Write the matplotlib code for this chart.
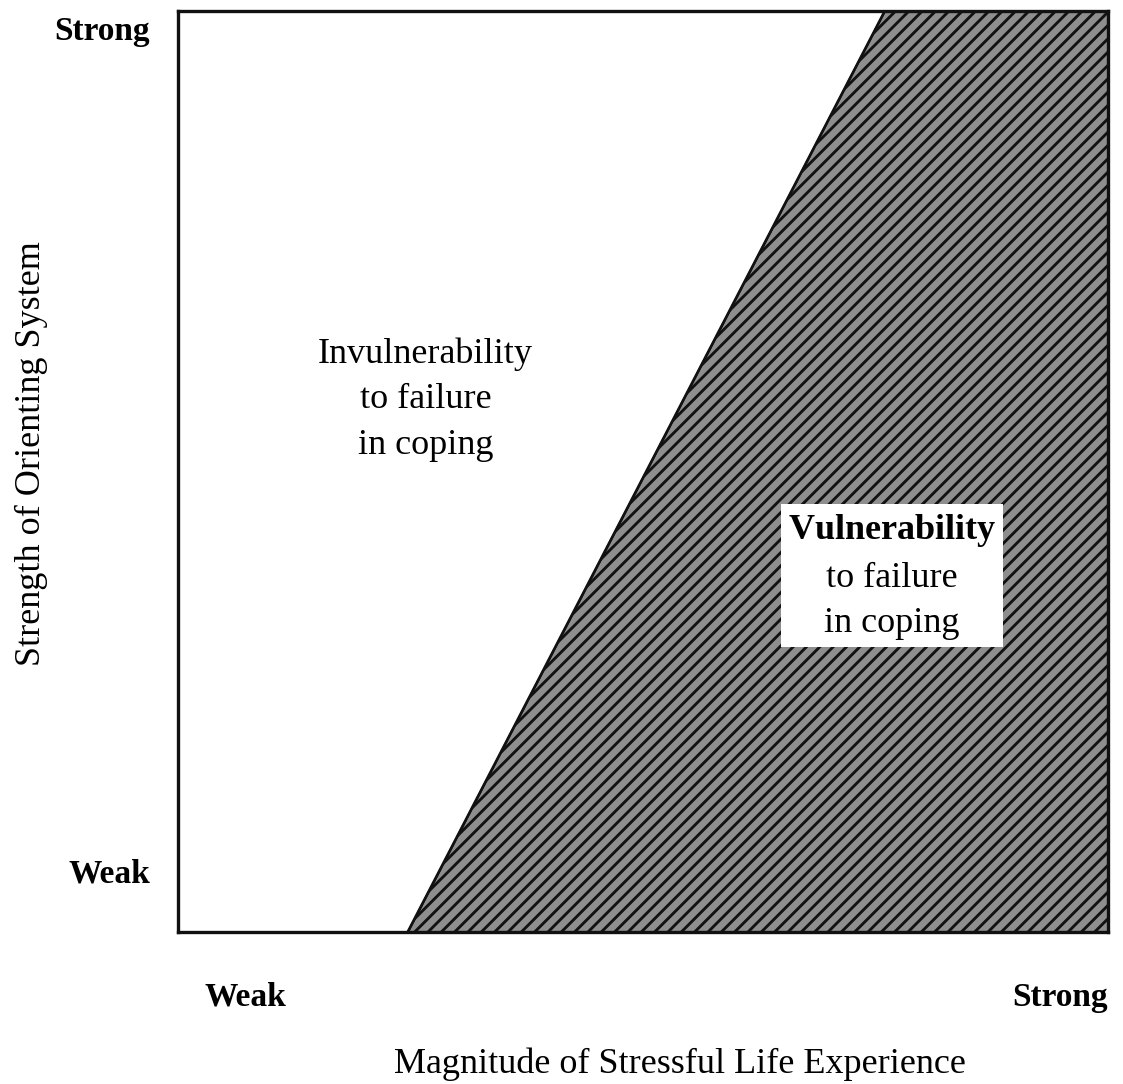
import matplotlib
matplotlib.use('Agg')
import matplotlib.pyplot as plt

# boundary between the two regions (fraction of each axis)
boundary_x = [0.247, 0.76]
boundary_y = [0.0, 1.0]

x_ticks = [0.072, 0.948]
x_ticklabels = ['Weak', 'Strong']
y_ticks = [0.067, 0.981]
y_ticklabels = ['Weak', 'Strong']

region_labels = ['Invulnerability\nto failure\nin coping',
                 r'$\mathbf{Vulnerability}$' + '\nto failure\nin coping']
region_pos = [(0.266, 0.578), (0.768, 0.386)]

DPI = 120          # hatch spacing follows dpi, so fonts are scaled to match
k = 100 / DPI

plt.rcParams['font.family'] = ['Liberation Serif', 'DejaVu Serif']
plt.rcParams['mathtext.fontset'] = 'custom'
plt.rcParams['mathtext.bf'] = 'Liberation Serif:bold'
plt.rcParams['hatch.linewidth'] = 1.7
plt.rcParams['hatch.color'] = '#151515'

fig = plt.figure(figsize=(1123 / DPI, 1084 / DPI), dpi=DPI)
ax = fig.add_axes([178/1123, 1 - 932/1084, 930/1123, 921/1084])
ax.set_xlim(0, 1)
ax.set_ylim(0, 1)

# shaded (vulnerable) region right of the boundary
poly_x = [boundary_x[0], 1, 1, boundary_x[1]]
poly_y = [boundary_y[0], 0, 1, boundary_y[1]]
ax.fill(poly_x, poly_y, facecolor='#8e8e8e', edgecolor='#111111',
        hatch='///', linewidth=1.2)
ax.plot(boundary_x, boundary_y, color='#111111', lw=1.6)

fs = 26 * k
ax.text(*region_pos[0], region_labels[0], ha='center', va='center',
        fontsize=fs, linespacing=1.5)
ax.text(*region_pos[1], region_labels[1], ha='center', va='center',
        fontsize=fs, linespacing=1.5,
        bbox=dict(facecolor='white', edgecolor='none', pad=5 * k))

ax.set_xticks(x_ticks)
ax.set_xticklabels(x_ticklabels, fontsize=24 * k, fontweight='bold')
ax.set_yticks(y_ticks)
ax.set_yticklabels(y_ticklabels, fontsize=24 * k, fontweight='bold')
ax.tick_params(axis='x', length=0, pad=36 * k)
ax.tick_params(axis='y', length=0, pad=20 * k)

ax.set_xlabel('Magnitude of Stressful Life Experience', fontsize=fs)
ax.set_ylabel('Strength of Orienting System', fontsize=fs)
ax.xaxis.set_label_coords(0.54, -0.125)
ax.yaxis.set_label_coords(-0.14, 0.52)

for s in ax.spines.values():
    s.set_linewidth(2.0)
    s.set_color('#111111')

fig.savefig('out.png', dpi=DPI)
